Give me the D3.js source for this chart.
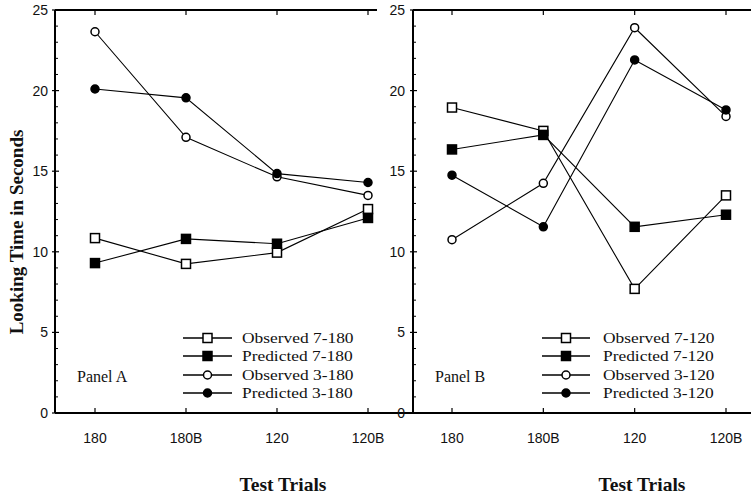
<!DOCTYPE html>
<html>
<head>
<meta charset="utf-8">
<script src="https://cdn.jsdelivr.net/npm/d3@7"></script>
<style>
  body { margin: 0; background: #fff; }
  .tick-label { font-family: "Liberation Sans", Arial, sans-serif; font-size: 14px; fill: #111; }
  .serif { font-family: "Liberation Serif", "Times New Roman", serif; fill: #111; }
</style>
</head>
<body>
<div id="chart"></div>
<script>
// Data
// ===========================
var trials = ["180", "180B", "120", "120B"];
var yTicks = [0, 5, 10, 15, 20, 25];

var seriesA = ["Observed 7-180", "Predicted 7-180", "Observed 3-180", "Predicted 3-180"];
var obs7_180 = [10.85, 9.25, 9.95, 12.65];
var pred7_180 = [9.3, 10.8, 10.5, 12.1];
var obs3_180 = [23.65, 17.1, 14.65, 13.5];
var pred3_180 = [20.1, 19.55, 14.85, 14.3];

var seriesB = ["Observed 7-120", "Predicted 7-120", "Observed 3-120", "Predicted 3-120"];
var obs7_120 = [18.95, 17.5, 7.7, 13.5];
var pred7_120 = [16.35, 17.25, 11.55, 12.3];
var obs3_120 = [10.75, 14.25, 23.9, 18.4];
var pred3_120 = [14.75, 11.55, 21.9, 18.8];

// marker type for each series slot: square open, square filled, circle open, circle filled
var markers = [
  { shape: "square", filled: false },
  { shape: "square", filled: true },
  { shape: "circle", filled: false },
  { shape: "circle", filled: true }
];

// Step 1: Set up the chart
// ===========================
var svgWidth = 751;
var svgHeight = 497;

var svg = d3.select("#chart")
            .append("svg")
            .attr("width", svgWidth)
            .attr("height", svgHeight);

var yScale = d3.scaleLinear()
               .domain([0, 25])
               .range([413, 10]);

var panels = [
  {
    left: 55, right: 413, topRight: 377,
    xRange: [95, 368], labelX: 48,
    series: seriesA, values: [obs7_180, pred7_180, obs3_180, pred3_180],
    name: "Panel A", nameX: 77,
    legendLine: [183, 232], legendText: 242,
    titleX: 283
  },
  {
    left: 413, right: 751, topRight: 751,
    xRange: [452, 726], labelX: 405,
    series: seriesB, values: [obs7_120, pred7_120, obs3_120, pred3_120],
    name: "Panel B", nameX: 435,
    legendLine: [542, 590], legendText: 603,
    titleX: 642
  }
];

var legendRows = [338, 356, 375, 393];

function drawMarker(g, m, x, y) {
  if (m.shape === "square") {
    g.append("rect")
     .attr("x", x - 4.5)
     .attr("y", y - 4.5)
     .attr("width", 9)
     .attr("height", 9)
     .attr("fill", m.filled ? "#000" : "#fff")
     .attr("stroke", "#000")
     .attr("stroke-width", 1.5);
  } else {
    g.append("circle")
     .attr("cx", x)
     .attr("cy", y)
     .attr("r", 4)
     .attr("fill", m.filled ? "#000" : "#fff")
     .attr("stroke", "#000")
     .attr("stroke-width", 1.5);
  }
}

// Step 2: Draw each panel
// ===========================
panels.forEach(function(p) {
  var g = svg.append("g");

  var xScale = d3.scalePoint()
                 .domain(trials)
                 .range(p.xRange);

  // frame lines
  g.append("line")
   .attr("x1", p.left).attr("x2", p.left)
   .attr("y1", yScale(25)).attr("y2", yScale(0))
   .attr("stroke", "#000").attr("stroke-width", 2);

  g.append("line")
   .attr("x1", p.left).attr("x2", p.right)
   .attr("y1", yScale(0)).attr("y2", yScale(0))
   .attr("stroke", "#000").attr("stroke-width", 2);

  g.append("line")
   .attr("x1", p.left).attr("x2", p.topRight)
   .attr("y1", yScale(25)).attr("y2", yScale(25))
   .attr("stroke", "#000").attr("stroke-width", 2);

  // minor ticks on y axis
  g.selectAll(".minor")
   .data(d3.range(1, 25).filter(function(v) { return v % 5 !== 0; }))
   .enter()
   .append("line")
   .attr("x1", p.left).attr("x2", p.left + 3)
   .attr("y1", d => yScale(d)).attr("y2", d => yScale(d))
   .attr("stroke", "#000").attr("stroke-width", 1);

  // major ticks + labels
  g.selectAll(".major")
   .data(yTicks)
   .enter()
   .append("line")
   .attr("x1", p.left - 3).attr("x2", p.left + 4)
   .attr("y1", d => yScale(d)).attr("y2", d => yScale(d))
   .attr("stroke", "#000").attr("stroke-width", 1.2);

  g.selectAll(".ylab")
   .data(yTicks)
   .enter()
   .append("text")
   .attr("class", "tick-label")
   .attr("x", p.labelX)
   .attr("y", d => yScale(d))
   .attr("dy", "0.35em")
   .attr("text-anchor", "end")
   .text(d => d);

  // x ticks (bottom up, top down)
  g.selectAll(".xtb")
   .data(trials)
   .enter()
   .append("line")
   .attr("x1", d => xScale(d)).attr("x2", d => xScale(d))
   .attr("y1", yScale(0)).attr("y2", yScale(0) - 5)
   .attr("stroke", "#000").attr("stroke-width", 1.2);

  g.selectAll(".xtt")
   .data(trials)
   .enter()
   .append("line")
   .attr("x1", d => xScale(d)).attr("x2", d => xScale(d))
   .attr("y1", yScale(25)).attr("y2", yScale(25) + 5)
   .attr("stroke", "#000").attr("stroke-width", 1.2);

  g.selectAll(".xlab")
   .data(trials)
   .enter()
   .append("text")
   .attr("class", "tick-label")
   .attr("x", d => xScale(d))
   .attr("y", 443)
   .attr("text-anchor", "middle")
   .text(d => d);

  // series lines and markers
  p.values.forEach(function(vals, i) {
    var line = d3.line()
                 .x((d, j) => xScale(trials[j]))
                 .y(d => yScale(d));

    g.append("path")
     .datum(vals)
     .attr("d", line)
     .attr("fill", "none")
     .attr("stroke", "#000")
     .attr("stroke-width", 1.1);
  });

  p.values.forEach(function(vals, i) {
    vals.forEach(function(v, j) {
      drawMarker(g, markers[i], xScale(trials[j]), yScale(v));
    });
  });

  // legend (text stretched a little sideways to match the wide typewriter-ish look)
  p.series.forEach(function(name, i) {
    var y = legendRows[i];
    g.append("line")
     .attr("x1", p.legendLine[0]).attr("x2", p.legendLine[1])
     .attr("y1", y).attr("y2", y)
     .attr("stroke", "#000").attr("stroke-width", 1.5);
    drawMarker(g, markers[i], (p.legendLine[0] + p.legendLine[1]) / 2, y);
    g.append("text")
     .attr("class", "serif")
     .attr("transform", `translate(${p.legendText}, ${y + 5}) scale(1.16, 1)`)
     .style("font-size", "15px")
     .text(name);
  });

  g.append("text")
   .attr("class", "serif")
   .attr("x", p.nameX)
   .attr("y", 382)
   .style("font-size", "16px")
   .text(p.name);

  // x axis title
  g.append("text")
   .attr("class", "serif")
   .attr("x", p.titleX)
   .attr("y", 491)
   .attr("text-anchor", "middle")
   .style("font-size", "19.5px")
   .style("font-weight", "bold")
   .text("Test Trials");
});

// Step 3: y axis title
// ===========================
svg.append("text")
   .attr("class", "serif")
   .attr("transform", "translate(23, 232) rotate(-90)")
   .attr("text-anchor", "middle")
   .style("font-size", "19px")
   .style("font-weight", "bold")
   .text("Looking Time in Seconds");
</script>
</body>
</html>
